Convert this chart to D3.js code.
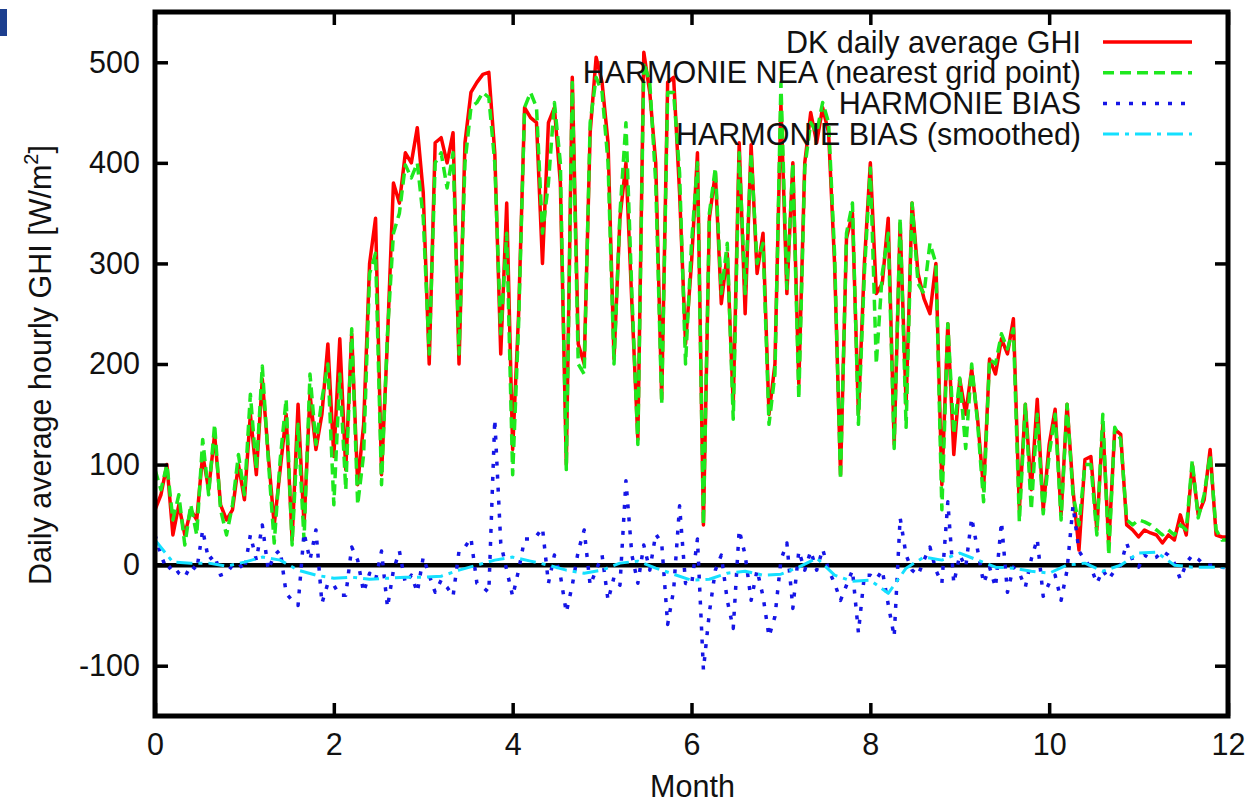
<!DOCTYPE html>
<html>
<head>
<meta charset="utf-8">
<script src="https://cdn.jsdelivr.net/npm/d3@7"></script>
<style>
  body { margin: 0; background: #fff; }
  svg { display: block; font-family: "Liberation Sans", Arial, sans-serif; }
</style>
</head>
<body>
<svg id="chart" width="1253" height="806"></svg>
<script>
// Daily average GHI vs HARMONIE, one sample every 2 days (15 per month)

const dkGhi = [
  55, 70, 100, 30, 60, 30, 55, 45, 110, 75, 130, 60, 45, 55, 100,
  65, 150, 90, 185, 110, 40, 95, 150, 25, 160, 40, 170, 115, 150, 220,
  108, 225, 95, 230, 80, 140, 300, 345, 90, 225, 380, 360, 410, 400, 435,
  370, 200, 420, 425, 400, 430, 200, 420, 470, 480, 488, 490, 410, 210, 360,
  115, 250, 455, 445, 440, 300, 440, 455, 380, 100, 485, 220, 200, 430, 505,
  480, 420, 205, 345, 400, 260, 125, 510, 470, 400, 165, 480, 485, 370, 220,
  300, 410, 40, 345, 390, 260, 310, 160, 420, 250, 418, 290, 330, 150, 200,
  460, 270, 400, 180, 400, 450, 420, 455, 430, 300, 90, 325, 350, 150, 300,
  400, 270, 280, 345, 120, 340, 160, 360, 290, 265, 250, 300, 80, 240, 110,
  185, 150, 195, 145, 75, 205, 190, 225, 210, 245, 55, 160, 75, 165, 55,
  120, 155, 50, 160, 75, 15, 105, 108, 35, 140, 20, 135, 130, 40, 35,
  28, 35, 32, 30, 22, 30, 25, 50, 30, 100, 50, 65, 115, 30, 28,
  28
];

const harmonieNea = [
  95, 75, 100, 45, 70, 20, 60, 30, 125, 70, 140, 55, 30, 60, 110,
  70, 170, 95, 198, 105, 22, 105, 165, 20, 140, 25, 190, 120, 165, 200,
  60, 190, 75, 235, 60, 110, 290, 310, 80, 230, 330, 350, 398, 385, 400,
  345, 210, 400, 410, 375, 410, 210, 400, 455, 460, 470, 465, 400, 230, 330,
  90, 240, 455, 470, 455, 330, 380, 460, 400, 95, 480, 200, 190, 440, 485,
  470, 400, 200, 350, 440, 270, 120, 500, 480, 380, 160, 470, 470, 390, 200,
  320, 400, 40, 350, 395, 270, 320, 145, 410, 270, 410, 300, 320, 140, 190,
  480, 275, 400, 165, 395, 440, 430, 460, 440, 310, 85, 330, 360, 140, 290,
  395, 200, 290, 330, 116, 345, 137, 360, 280, 270, 320, 300, 55, 240, 130,
  186, 116, 200, 141, 63, 205, 200, 230, 215, 235, 43, 160, 55, 150, 51,
  110, 150, 45, 160, 70, 40, 100, 100, 30, 150, 10, 137, 125, 45, 40,
  45, 43, 40, 35, 30, 35, 30, 40, 35, 104, 47, 70, 110, 35, 25,
  25
];

const harmonieBias = [
  30, 10, -5, 0, -8, -12, 0, -5, 35, 5, 10, -10, -8, 0, 2,
  -5, 30, 5, 40, -5, 10, 15, -28, -35, -40, 32, 5, 35, -38, -18,
  -20, -30, -30, 18, 5, -27, -8, -15, 14, -42, -5, 14, -18, -10, -27,
  8, -10, -27, -15, -22, -31, 14, 18, 27, -18, -22, -27, 145, 22, -5,
  -31, -5, 26, 26, 29, 37, -18, 10, -10, -47, -20, 14, 35, -20, -5,
  10, -35, -12, -20, 84, 10, -18, 20, -5, 31, 22, -59, -25, 59, -18,
  -20, 26, -104, -47, -5, 10, -35, -63, 35, 10, -35, -5, -31, -71, -51,
  5, 22, -43, 14, -5, 14, -5, 16, -5, -18, -35, -20, -5, -67, -10,
  -10, -14, -5, -39, -71, 47, 10, -5, -10, 5, 18, -5, -18, 63, -18,
  10, -2, 47, 15, -18, -2, -22, 43, -27, -2, -8, -22, 6, 26, -31,
  -18, -10, -35, -5, 59, 14, 5, -2, -18, -5, -14, -5, 0, 22, 5,
  -2, 10, 6, 8, 14, 10, 2, -14, 2, 10, 6, 0, 0, 0, -2,
  -3
];

// smoothed bias, one sample every 0.2 month
const biasSmoothed = [
  25, 3, 2, 2, -1, 3, 8, 5, -5, -10,
  -13, -12, -14, -13, -12, -12, -11, -5, 0, 5,
  8, 4, 0, -5, -8, -5, 2, 4, -3, -9,
  -15, -14, -8, -6, -10, -9, -2, 7, -10, -16,
  -15, -28, -3, 8, 5, 12, 5, -2, -3, -6,
  -8, 0, 2, -6, 0, 12, 13, 0, -2, -2,
  -2
];

const xTicks = [0, 2, 4, 6, 8, 10, 12];
const yTicks = [-100, 0, 100, 200, 300, 400, 500];

const legendItems = [
  { label: "DK daily average GHI", color: "#ff0000", dash: null, width: 3.5 },
  { label: "HARMONIE NEA (nearest grid point)", color: "#1ee81e", dash: "11,6", width: 3.5 },
  { label: "HARMONIE BIAS", color: "#1515e6", dash: "4,9", width: 3.5 },
  { label: "HARMONIE BIAS (smoothed)", color: "#14e0ff", dash: "16,6,4,6", width: 3 },
];

const svg = d3.select("#chart");
const plotLeft = 155, plotRight = 1228, plotTop = 12, plotBottom = 716;

const x = d3.scaleLinear().domain([0, 12]).range([plotLeft, plotRight]);
const y = d3.scaleLinear().domain([-150, 550]).range([plotBottom, plotTop]);

// little stray mark in the top-left corner of the original figure
svg.append("rect").attr("x", 0).attr("y", 9).attr("width", 7).attr("height", 27).attr("fill", "#1d3f8f");

const dailyX = (d, i) => x(i / 15);
const smoothX = (d, i) => x(i * 0.2);

const plot = svg.append("g");

// zero axis
plot.append("line")
  .attr("x1", plotLeft).attr("x2", plotRight)
  .attr("y1", y(0)).attr("y2", y(0))
  .attr("stroke", "#000").attr("stroke-width", 4.5);

function drawSeries(values, xFn, item) {
  const line = d3.line().x(xFn).y((d) => y(d));
  plot.append("path")
    .datum(values)
    .attr("d", line)
    .attr("fill", "none")
    .attr("stroke", item.color)
    .attr("stroke-width", item.width)
    .attr("stroke-linejoin", "round")
    .attr("stroke-dasharray", item.dash);
}

drawSeries(dkGhi, dailyX, legendItems[0]);
drawSeries(harmonieNea, dailyX, legendItems[1]);
drawSeries(harmonieBias, dailyX, legendItems[2]);
drawSeries(biasSmoothed, smoothX, legendItems[3]);

// axes, ticks pointing inwards on all four sides
const fontSize = 30.5;
const plainNum = (d) => String(d); // plain hyphen minus, as in the original

svg.append("g")
  .attr("transform", `translate(${plotLeft},0)`)
  .call(d3.axisLeft(y).tickValues(yTicks).tickSize(-13).tickPadding(15).tickFormat(plainNum));
svg.append("g")
  .attr("transform", `translate(${plotRight},0)`)
  .call(d3.axisRight(y).tickValues(yTicks).tickSize(-13).tickFormat(""));
svg.append("g")
  .attr("transform", `translate(0,${plotBottom})`)
  .call(d3.axisBottom(x).tickValues(xTicks).tickSize(-13).tickPadding(17).tickFormat(plainNum));
svg.append("g")
  .attr("transform", `translate(0,${plotTop})`)
  .call(d3.axisTop(x).tickValues(xTicks).tickSize(-13).tickFormat(""));

svg.selectAll(".domain").remove();
svg.selectAll(".tick line").attr("stroke", "#000").attr("stroke-width", 3.5);
svg.selectAll(".tick text")
  .attr("font-size", fontSize)
  .attr("font-family", "Liberation Sans, Arial, sans-serif")
  .attr("fill", "#111");

// frame
svg.append("rect")
  .attr("x", plotLeft).attr("y", plotTop)
  .attr("width", plotRight - plotLeft).attr("height", plotBottom - plotTop)
  .attr("fill", "none").attr("stroke", "#000").attr("stroke-width", 5);

// axis titles
svg.append("text")
  .attr("x", (plotLeft + plotRight) / 2 + 1)
  .attr("y", 797)
  .attr("text-anchor", "middle")
  .attr("font-size", fontSize)
  .attr("fill", "#111")
  .text("Month");

const yTitle = svg.append("text")
  .attr("transform", "translate(51,365) rotate(-90)")
  .attr("text-anchor", "middle")
  .attr("font-size", fontSize)
  .attr("fill", "#111");
yTitle.append("tspan").text("Daily average hourly GHI [W/m");
yTitle.append("tspan").attr("font-size", 20).attr("dy", -13).text("2");
yTitle.append("tspan").attr("dy", 13).text("]");

// legend
const legend = svg.append("g");
legendItems.forEach((item, i) => {
  const ly = 42 + i * 30.7;
  legend.append("text")
    .attr("x", 1081).attr("y", ly)
    .attr("dy", "0.35em")
    .attr("text-anchor", "end")
    .attr("font-size", fontSize)
    .attr("fill", "#111")
    .text(item.label);
  legend.append("line")
    .attr("x1", 1103).attr("x2", 1192)
    .attr("y1", ly).attr("y2", ly)
    .attr("stroke", item.color)
    .attr("stroke-width", item.width)
    .attr("stroke-dasharray", item.dash);
});
</script>
</body>
</html>
